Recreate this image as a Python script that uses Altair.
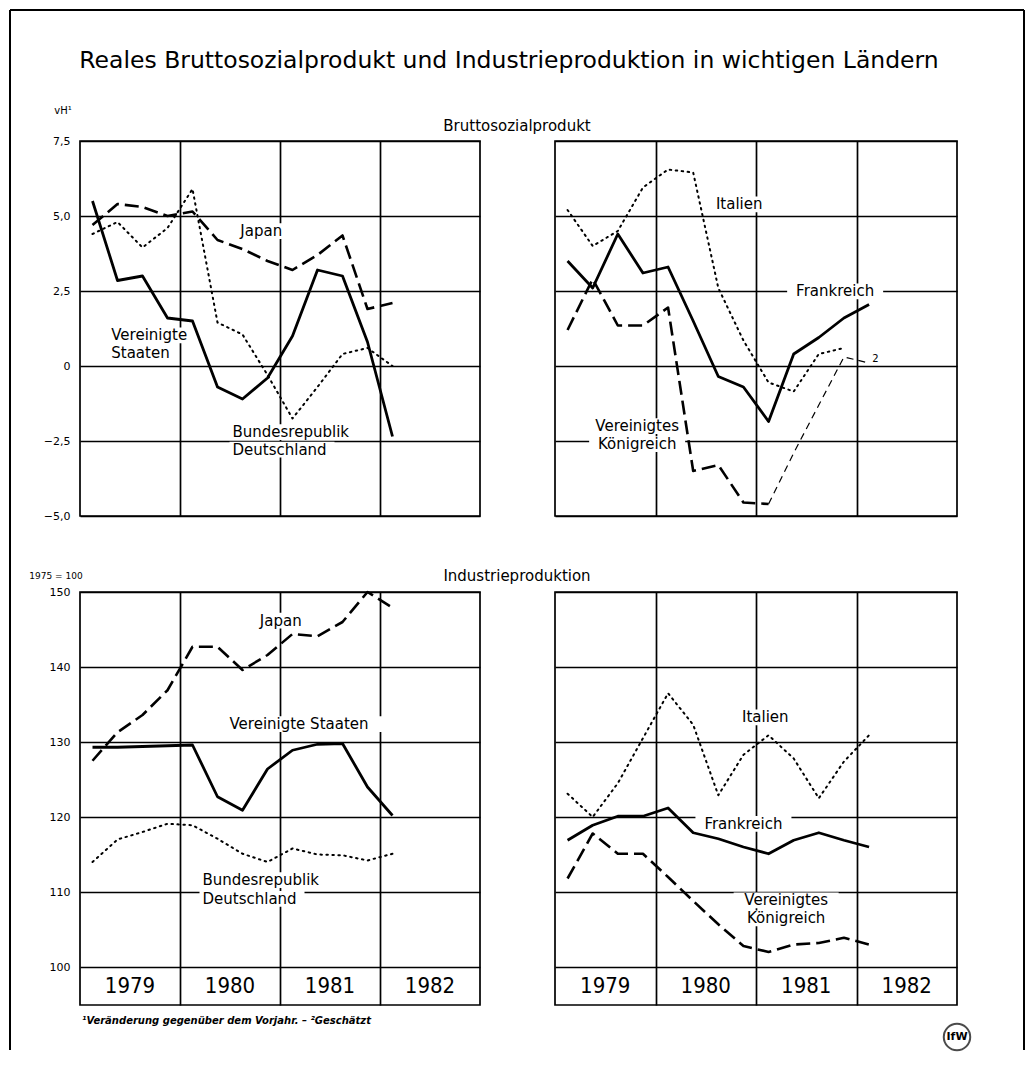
import altair as alt
import pandas as pd

# ---------------- data (quarterly, first value = Q1 1979) ----------------
YEARS = ["1979", "1980", "1981", "1982"]
YEAR_CENTERS = [2, 6, 10, 14]

# Reales Bruttosozialprodukt, Veränderung gegenüber Vorjahr (vH)
BSP_US = [5.5, 2.85, 3.0, 1.6, 1.5, -0.7, -1.1, -0.4, 1.0, 3.2, 3.0, 0.8, -2.35]
BSP_JP = [4.7, 5.4, 5.3, 5.0, 5.15, 4.2, 3.9, 3.5, 3.2, 3.7, 4.35, 1.9, 2.1]
BSP_DE = [4.4, 4.8, 3.95, 4.6, 5.9, 1.45, 1.05, -0.3, -1.75, -0.7, 0.4, 0.6, 0.0]
BSP_FR = [3.5, 2.6, 4.4, 3.1, 3.3, 1.5, -0.35, -0.7, -1.85, 0.4, 0.95, 1.6, 2.05]
BSP_UK = [1.2, 2.9, 1.35, 1.35, 1.95, -3.5, -3.3, -4.55, -4.6]
BSP_UK_EST = [-4.6, -2.9, -1.3, 0.3, 0.1]   # from Q1 1981, geschätzt
BSP_IT = [5.2, 4.0, 4.5, 5.95, 6.55, 6.45, 2.6, 0.85, -0.55, -0.85, 0.4, 0.6]

# Industrieproduktion, 1975 = 100
IP_JP = [127.5, 131.3, 133.6, 136.9, 142.7, 142.7, 139.6, 141.6, 144.4, 144.1, 146.0, 150.0, 147.9]
IP_US = [129.3, 129.3, 129.4, 129.5, 129.6, 122.7, 120.9, 126.4, 128.9, 129.7, 129.8, 124.0, 120.2]
IP_DE = [114.0, 117.0, 118.0, 119.1, 118.9, 117.1, 115.1, 114.0, 115.8, 115.0, 114.9, 114.2, 115.1]
IP_IT = [123.1, 120.0, 124.5, 130.5, 136.5, 132.3, 122.9, 128.3, 130.9, 127.8, 122.5, 127.4, 130.9]
IP_FR = [116.9, 118.9, 120.1, 120.1, 121.2, 117.9, 117.1, 116.0, 115.1, 116.9, 117.9, 116.9, 116.0]
IP_UK = [111.8, 117.8, 115.1, 115.1, 112.0, 108.8, 105.7, 102.8, 102.0, 103.0, 103.2, 103.9, 103.0]

BSP_TICKS = [-5, -2.5, 0, 2.5, 5, 7.5]
IP_TICKS = [100, 110, 120, 130, 140, 150]

# ---------------- styling ----------------
FONT = "DejaVu Sans"
YEAR_FONT = "Liberation Sans Narrow, DejaVu Sans Condensed, DejaVu Sans"
W_L, W_R, H = 400, 402, 375
H_STRIP = 38
GRID_W = 1.7
LABEL_SIZE = 15

STYLES = {
    "solid": dict(strokeWidth=2.8),
    "dashed": dict(strokeWidth=2.6, strokeDash=[14, 6]),
    "dotted": dict(strokeWidth=2.0, strokeDash=[1.5, 4.5], strokeCap="round"),
    "thin": dict(strokeWidth=1.2, strokeDash=[7, 5]),
}


def series(vals, start=0):
    return pd.DataFrame({"q": [start + i + 0.5 for i in range(len(vals))], "v": vals})


XS = alt.Scale(domain=[0, 16], nice=False, zero=False)


def x_enc(field="q"):
    return alt.X(f"{field}:Q", scale=XS,
                 axis=alt.Axis(values=[4, 8, 12], grid=True, labels=False, ticks=False,
                               domain=False, title=None, gridColor="black",
                               gridWidth=GRID_W, gridOpacity=1))


def y_enc(domain, values, show_labels, label_expr=None, field="v"):
    kw = dict(values=values, grid=True, ticks=False, domain=False, title=None,
              labels=show_labels, labelPadding=10, labelFont=FONT, labelFontSize=11,
              labelColor="black", gridColor="black", gridWidth=GRID_W, gridOpacity=1)
    if label_expr:
        kw["labelExpr"] = label_expr
    return alt.Y(f"{field}:Q", scale=alt.Scale(domain=domain, nice=False, zero=False),
                 axis=alt.Axis(**kw))


def panel(lines, labels, domain, values, width, height, show_labels, label_expr=None,
          extras=()):
    ppq = width / 16.0
    ppv = height / (domain[1] - domain[0])
    rows = []
    for t, q, v, al, sz in labels:
        w = len(t) * 0.6 * sz + 6
        h = sz * 1.05
        x0 = q - 3 / ppq if al == "left" else q - w / 2 / ppq
        rows.append({"x0": x0, "x1": x0 + w / ppq, "y0": v - h / 2 / ppv, "y1": v + h / 2 / ppv})
    bg = pd.DataFrame(rows)
    lab = pd.DataFrame(labels, columns=["t", "q", "v", "align", "size"])

    yk = dict(domain=domain, values=values, show_labels=show_labels, label_expr=label_expr)
    layers = [alt.Chart(bg).mark_rect(color="white").encode(
        x=x_enc("x0"), x2="x1:Q", y=y_enc(field="y0", **yk), y2="y1:Q")]
    for vals, start, style in lines:
        layers.append(alt.Chart(series(vals, start)).mark_line(
            color="black", strokeJoin="round", **STYLES[style]).encode(
            x=x_enc(), y=y_enc(**yk)))
    for al in ["left", "center"]:
        sub = lab[lab["align"] == al]
        for sz in sorted(sub["size"].unique()):
            s2 = sub[sub["size"] == sz]
            layers.append(alt.Chart(s2).mark_text(
                font=FONT, fontSize=float(sz), align=al, baseline="middle", color="black").encode(
                x=x_enc(), y=y_enc(**yk), text="t:N"))
    layers.extend(extras)
    return alt.layer(*layers).properties(width=width, height=height)


DUMMY = pd.DataFrame({"a": [0]})


def free_text(text, x, y, size, align="center", weight="normal", style="normal", font=FONT):
    return alt.Chart(DUMMY).mark_text(
        text=text, font=font, fontSize=size, align=align, baseline="middle",
        fontWeight=weight, fontStyle=style, color="black").encode(
        x=alt.value(x), y=alt.value(y))


def rule(x, y, x2=None, y2=None, w=2):
    enc = dict(x=alt.value(x), y=alt.value(y))
    if x2 is not None:
        enc["x2"] = alt.value(x2)
    if y2 is not None:
        enc["y2"] = alt.value(y2)
    return alt.Chart(DUMMY).mark_rule(color="black", strokeWidth=w).encode(**enc)


BSP_EXPR = "datum.value == 0 ? '0' : replace(format(datum.value, '.1f'), '.', ',')"

# decorations placed relative to the top-left panel
deco = [
    rule(-70, -131, y2=909, w=2),
    rule(944, -131, y2=909, w=2),
    rule(-70, -131, x2=944, w=2),
    free_text("Reales Bruttosozialprodukt und Industrieproduktion in wichtigen Ländern",
              429, -80, 23.5),
    free_text("Bruttosozialprodukt", 437, -15, 15),
    free_text("vH¹", -17, -30, 10),
    free_text("¹Veränderung gegenüber dem Vorjahr. – ²Geschätzt", 2, 880, 10,
              align="left", weight="bold", style="italic"),
    alt.Chart(DUMMY).mark_point(shape="circle", size=700, filled=False, color="black",
                                strokeWidth=2).encode(x=alt.value(877), y=alt.value(896)),
    free_text("IfW", 877, 896, 11, weight="bold"),
]

S = LABEL_SIZE
tl = panel(
    [(BSP_JP, 0, "dashed"), (BSP_DE, 0, "dotted"), (BSP_US, 0, "solid")],
    [("Japan", 7.25, 4.5, "center", S),
     ("Vereinigte", 1.25, 1.02, "left", S), ("Staaten", 1.25, 0.43, "left", S),
     ("Bundesrepublik", 6.1, -2.2, "left", S), ("Deutschland", 6.1, -2.79, "left", S)],
    [-5, 7.5], BSP_TICKS, W_L, H, True, BSP_EXPR, extras=deco)

tr = panel(
    [(BSP_IT, 0, "dotted"), (BSP_UK, 0, "dashed"), (BSP_UK_EST, 8, "thin"),
     (BSP_FR, 0, "solid")],
    [("Italien", 7.33, 5.39, "center", S),
     ("Frankreich", 11.15, 2.49, "center", S),
     ("Vereinigtes", 3.27, -2.0, "center", S), ("Königreich", 3.27, -2.6, "center", S),
     ("2", 12.75, 0.22, "center", 10)],
    [-5, 7.5], BSP_TICKS, W_R, H, False)

# bottom panels include the year strip below the 100 line
IP_DOMAIN = [100 - H_STRIP / 7.5, 150]
HB = H + H_STRIP


def year_labels():
    df = pd.DataFrame({"q": YEAR_CENTERS, "year": YEARS,
                       "v": [100 - H_STRIP / 15.0] * 4})
    return alt.Chart(df).mark_text(font=YEAR_FONT, fontSize=22, baseline="middle",
                                   color="black").encode(
        x=x_enc(), y=y_enc(IP_DOMAIN, IP_TICKS, False), text="year:N")


bl_extras = [
    free_text("Industrieproduktion", 437, -16, 15),
    free_text("1975 = 100", -24, -16, 9),
    year_labels(),
]
bl = panel(
    [(IP_DE, 0, "dotted"), (IP_JP, 0, "dashed"), (IP_US, 0, "solid")],
    [("Japan", 8.03, 146.2, "center", S),
     ("Vereinigte Staaten", 8.76, 132.4, "center", S),
     ("Bundesrepublik", 4.9, 111.6, "left", S), ("Deutschland", 4.9, 109.1, "left", S)],
    IP_DOMAIN, IP_TICKS, W_L, HB, True, None, extras=bl_extras)

br = panel(
    [(IP_IT, 0, "dotted"), (IP_UK, 0, "dashed"), (IP_FR, 0, "solid")],
    [("Italien", 8.37, 133.3, "center", S),
     ("Frankreich", 7.5, 119.1, "center", S),
     ("Vereinigtes", 9.2, 108.9, "center", S), ("Königreich", 9.2, 106.5, "center", S)],
    IP_DOMAIN, IP_TICKS, W_R, HB, False, extras=[year_labels()])

chart = alt.concat(
    tl, tr, bl, br, columns=2, spacing={"row": 76, "column": 75}, bounds="flush"
).properties(padding=0, background="white").configure_view(
    stroke="black", strokeWidth=1.7
)

chart.save("out.html", embed_options={"renderer": "svg", "actions": False})
